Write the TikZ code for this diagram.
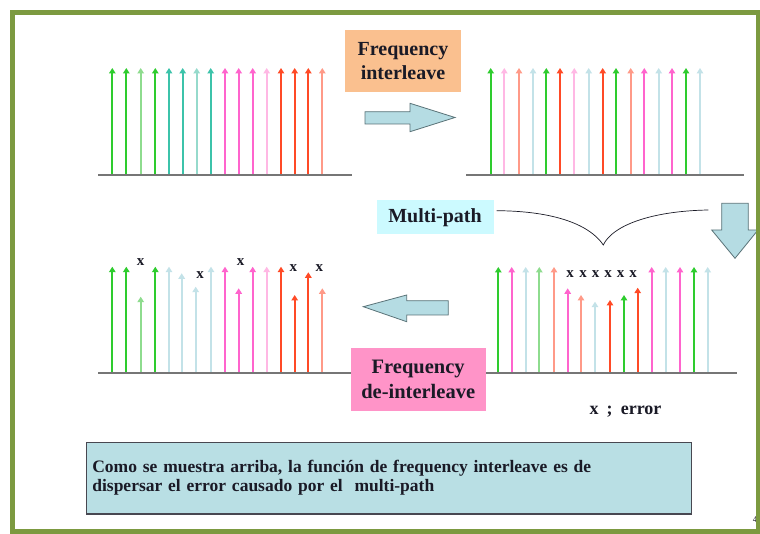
\documentclass[tikz,border=0pt]{standalone}
\usepackage{fontspec}
\setmainfont{Liberation Serif}
\usetikzlibrary{arrows.meta}

% palette
\definecolor{gA}{RGB}{46,204,46}
\definecolor{gB}{RGB}{142,220,142}
\definecolor{tA}{RGB}{60,195,170}
\definecolor{tB}{RGB}{150,218,204}
\definecolor{pA}{RGB}{255,100,205}
\definecolor{pB}{RGB}{255,184,228}
\definecolor{rA}{RGB}{255,74,38}
\definecolor{rB}{RGB}{255,154,136}
\definecolor{bA}{RGB}{195,226,232}
\definecolor{axisgray}{RGB}{118,118,118}
\definecolor{peach}{RGB}{250,192,143}
\definecolor{cyanbox}{RGB}{204,250,255}
\definecolor{pinkbox}{RGB}{255,148,200}
\definecolor{arrowblue}{RGB}{181,220,227}
\definecolor{arrowedge}{RGB}{90,115,120}
\definecolor{notebox}{RGB}{185,223,228}
\definecolor{framegreen}{RGB}{124,154,64}
\definecolor{ink}{RGB}{26,26,38}

\tikzset{
  spike/.style={line width=1.9pt, -{Triangle[width=6.5pt,length=5.5pt]}},
  axisline/.style={line width=2pt, draw=axisgray},
  boxlabel/.style={font=\bfseries\fontsize{20}{24}\selectfont, text=ink, align=center, inner sep=0pt},
  blockarrow/.style={fill=arrowblue, draw=arrowedge, line width=0.8pt, line join=miter},
  errmark/.style={font=\bfseries\fontsize{15}{15}\selectfont, text=ink, inner sep=0pt},
}

\begin{document}
\begin{tikzpicture}[x=1pt,y=-1pt]
\useasboundingbox (0,0) rectangle (760,534);
\fill[white] (0,0) rectangle (760,534);

% ---- original spectrum (top left)
\foreach \x/\c in {112.3/gA,126.3/gA,140.7/gB,155.3/gA,169/tA,182.7/tA,196.7/tB,210.7/tA,
                   225/pA,238.7/pA,252.7/pA,266.7/pB,281/rA,294.7/rA,308.3/rA,322.3/rB}
  \draw[spike,\c] (\x,175.5) -- (\x,68);
\draw[axisline] (98,175.5) coordinate (tlA) -- (352,175.5) coordinate (tlB);

% ---- interleaved spectrum (top right)
\foreach \x/\c in {490.7/gA,504.3/pB,519/rB,533/bA,546.3/gA,560/rA,574.3/pB,588.7/bA,
                   602.7/rA,616/gA,630.7/rB,644.3/pA,658.7/bA,672/pA,686/gA,700/bA}
  \draw[spike,\c] (\x,175.5) -- (\x,68);
\draw[axisline] (466,175.5) coordinate (trA) -- (744,175.5) coordinate (trB);

% ---- received spectrum after multi-path (bottom right)
\foreach \x/\c/\t in {498.3/gA/267,511.7/pA/267,525.7/bA/267,539.3/gB/267,554/rB/267,
                      567.7/pA/288.3,581/rB/295,595/bA/301.7,610/rA/300,624/gA/295,637.7/rA/287.7,
                      651.7/pA/267,665.7/bA/267,680/pA/267,694/gA/267,707.7/bA/267}
  \draw[spike,\c] (\x,373.3) -- (\x,\t);

% ---- de-interleaved spectrum (bottom left)
\foreach \x/\c/\t in {112.3/gA/266.7,126.3/gA/266.7,140.7/gB/296.7,155.3/gA/266.7,
                      169/bA/266.7,181.7/bA/273.3,195.7/bA/286.7,211/bA/266.7,
                      225/pA/266.7,238.7/pA/288.3,252.7/pA/266.7,266.7/pB/266.7,
                      281/rA/266.7,294.7/rA/295,308.3/rA/272.3,322.3/rB/288.3}
  \draw[spike,\c] (\x,373.3) -- (\x,\t);
\draw[axisline] (98,373.3) coordinate (bA1) -- (737,373.3) coordinate (bA2);

% error marks
\node[errmark] (e1) at (140.7,261.7) {x};
\node[errmark] (e2) at (200,275) {x};
\node[errmark] (e3) at (240.7,261.7) {x};
\node[errmark] (e4) at (293.3,268.3) {x};
\node[errmark] (e5) at (319.3,268.3) {x};
\foreach \x [count=\i] in {570,583,595.5,608,620.5,633}
  \node[errmark] (m\i) at (\x,274.3) {x};

% ---- labels
\node[boxlabel, fill=peach, minimum width=116pt, minimum height=62pt,
      font=\bfseries\fontsize{20}{23.5}\selectfont] (fi) at (403,61) {Frequency\\interleave};
\node[boxlabel, fill=cyanbox, minimum width=117pt, minimum height=34pt] (mp) at (435,217.2) {Multi-path};
\node[boxlabel, fill=pinkbox, minimum width=135pt, minimum height=62.4pt,
      font=\bfseries\fontsize{20.5}{25}\selectfont] (fd) at (418.2,379.5) {Frequency\\de-interleave};
\node[font=\bfseries\fontsize{18}{18}\selectfont, text=ink, inner sep=0pt] (err) at (625.5,411.7)
  {x\hspace{0.45em};\hspace{0.45em}error};

% ---- block arrows
\draw[blockarrow] (365,111.7) -- (410,111.7) -- (410,103.3) -- (455,117.5)
  -- (410,131.7) -- (410,124) -- (365,124) -- cycle;
\draw[blockarrow] (448.3,300.7) -- (406.7,300.7) -- (406.7,295) -- (363.3,306.7)
  -- (406.7,321.7) -- (406.7,315) -- (448.3,315) -- cycle;
\draw[blockarrow] (721.7,203.3) -- (748.3,203.3) -- (748.3,230) -- (758,230)
  -- (735,258.3) -- (711.7,230) -- (721.7,230) -- cycle;

% ---- multi-path brace
\coordinate (brL) at (496.7,210.7);
\coordinate (brM) at (603.3,245);
\coordinate (brR) at (708.3,210);
\draw[line width=0.7pt, ink] (brL) .. controls (555,211) and (590,225) .. (brM)
  .. controls (612,226) and (650,211) .. (brR);

% ---- note
\node[draw=ink!80, line width=1.3pt, fill=notebox, anchor=north west,
      minimum width=605pt, minimum height=71.6pt, text width=593pt, inner xsep=6pt,
      align=left, font=\bfseries\fontsize{17.5}{19}\selectfont, text=ink] (note) at (85.7,441.7)
  {Como se muestra arriba, la función de frequency interleave es de\\dispersar el error causado por el\ \ multi-path};

% slide number
\node[font=\fontsize{9}{9}\selectfont, text=ink, inner sep=0pt] (pg) at (755,520) {4};

% ---- frame
\draw[line width=5pt, framegreen] (12.5,12.5) rectangle (758,531);
\end{tikzpicture}
\end{document}
